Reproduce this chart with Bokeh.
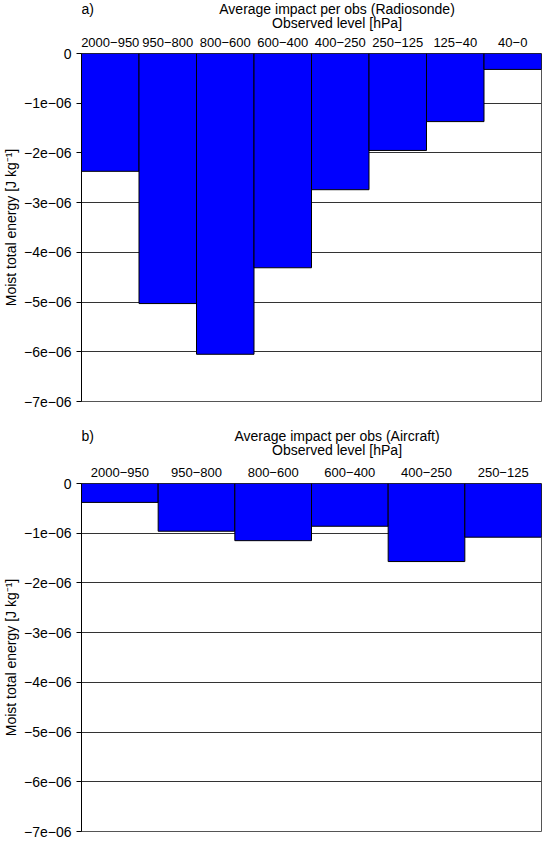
from bokeh.plotting import figure
from bokeh.models import Range1d, FactorRange, FixedTicker, CustomJSTickFormatter
from bokeh.core.properties import value
from bokeh.layouts import column
from bokeh.embed import file_html
from bokeh.resources import INLINE

# ---- data ----
radiosonde_levels = ["2000\u2212950", "950\u2212800", "800\u2212600", "600\u2212400",
                     "400\u2212250", "250\u2212125", "125\u221240", "40\u22120"]
radiosonde_impact = [-2.37e-6, -5.03e-6, -6.05e-6, -4.31e-6, -2.74e-6, -1.95e-6, -1.37e-6, -0.32e-6]

aircraft_levels = ["2000\u2212950", "950\u2212800", "800\u2212600", "600\u2212400",
                   "400\u2212250", "250\u2212125"]
aircraft_impact = [-0.38e-6, -0.96e-6, -1.15e-6, -0.86e-6, -1.57e-6, -1.08e-6]

y_ticks = [0, -1e-6, -2e-6, -3e-6, -4e-6, -5e-6, -6e-6, -7e-6]
y_min, y_max = -7e-6, 0

FONT = "Liberation Sans"

# ---- layout constants ----
W = 533
LEFT = 72
RIGHT = 1
FW = W - LEFT - RIGHT
FH = 348


def make_header(letter, title, height, y1, y2):
    h = figure(width=W, height=height, x_range=Range1d(0, W), y_range=Range1d(height, 0),
               x_axis_type=None, y_axis_type=None, min_border=0,
               min_border_left=0, min_border_right=0, min_border_top=0, min_border_bottom=0,
               output_backend="svg", toolbar_location=None)
    h.outline_line_color = None
    h.grid.visible = False
    cx = LEFT + FW / 2
    h.text(x=[cx, cx], y=[y1, y2], text=[title, "Observed level [hPa]"],
           text_align="center", text_baseline="middle",
           text_font=value(FONT), text_font_size=value("14px"), text_color="black")
    h.text(x=[0], y=[y1], text=[letter], text_align="left", text_baseline="middle",
           text_font=value(FONT), text_font_size=value("14px"), text_color="black")
    return h


def make_panel(levels, impact, border_top, border_bottom):
    p = figure(x_range=FactorRange(factors=levels), y_range=Range1d(y_min, y_max),
               x_axis_location="above", frame_width=FW, frame_height=FH,
               min_border_left=LEFT, min_border_right=RIGHT, min_border_top=border_top,
               min_border_bottom=border_bottom,
               output_backend="svg", toolbar_location=None)
    p.vbar(x=levels, top=0, bottom=impact, width=1.0,
           fill_color="#0000FF", line_color="black", line_width=1)

    p.xgrid.visible = False
    p.ygrid.ticker = FixedTicker(ticks=y_ticks)
    p.ygrid.grid_line_color = "#333333"
    p.ygrid.grid_line_width = 1
    p.outline_line_color = "#555555"

    xa = p.xaxis[0]
    xa.axis_line_color = None
    xa.major_tick_line_color = None
    xa.minor_tick_line_color = None
    xa.major_label_standoff = 1
    xa.major_label_text_font = FONT
    xa.major_label_text_font_size = "13px"
    xa.major_label_text_color = "black"

    ya = p.yaxis[0]
    ya.ticker = FixedTicker(ticks=y_ticks)
    ya.formatter = CustomJSTickFormatter(code="""
        if (Math.abs(tick) < 1e-12) return "0";
        const n = Math.round(-tick * 1e6);
        return "\\u2212" + n + "e\\u221206";
    """)
    ya.axis_line_color = "black"
    ya.major_tick_line_color = "black"
    ya.major_tick_out = 5
    ya.major_tick_in = 0
    ya.minor_tick_line_color = None
    ya.major_label_standoff = 5
    ya.major_label_text_font = FONT
    ya.major_label_text_font_size = "14px"
    ya.major_label_text_color = "black"
    ya.axis_label = "Moist total energy [J kg\u207b\u00b9]"
    ya.axis_label_text_font = FONT
    ya.axis_label_text_font_size = "14px"
    ya.axis_label_text_font_style = "normal"
    ya.axis_label_text_color = "black"
    ya.axis_label_standoff = 2
    return p


h1 = make_header("a)", "Average impact per obs (Radiosonde)", 31, 8, 22)
p1 = make_panel(radiosonde_levels, radiosonde_impact, 22, 26)
h2 = make_header("b)", "Average impact per obs (Aircraft)", 34, 8, 22)
p2 = make_panel(aircraft_levels, aircraft_impact, 22, 8)

layout = column(h1, p1, h2, p2, spacing=0)
open("out.html", "w").write(file_html(layout, INLINE))
